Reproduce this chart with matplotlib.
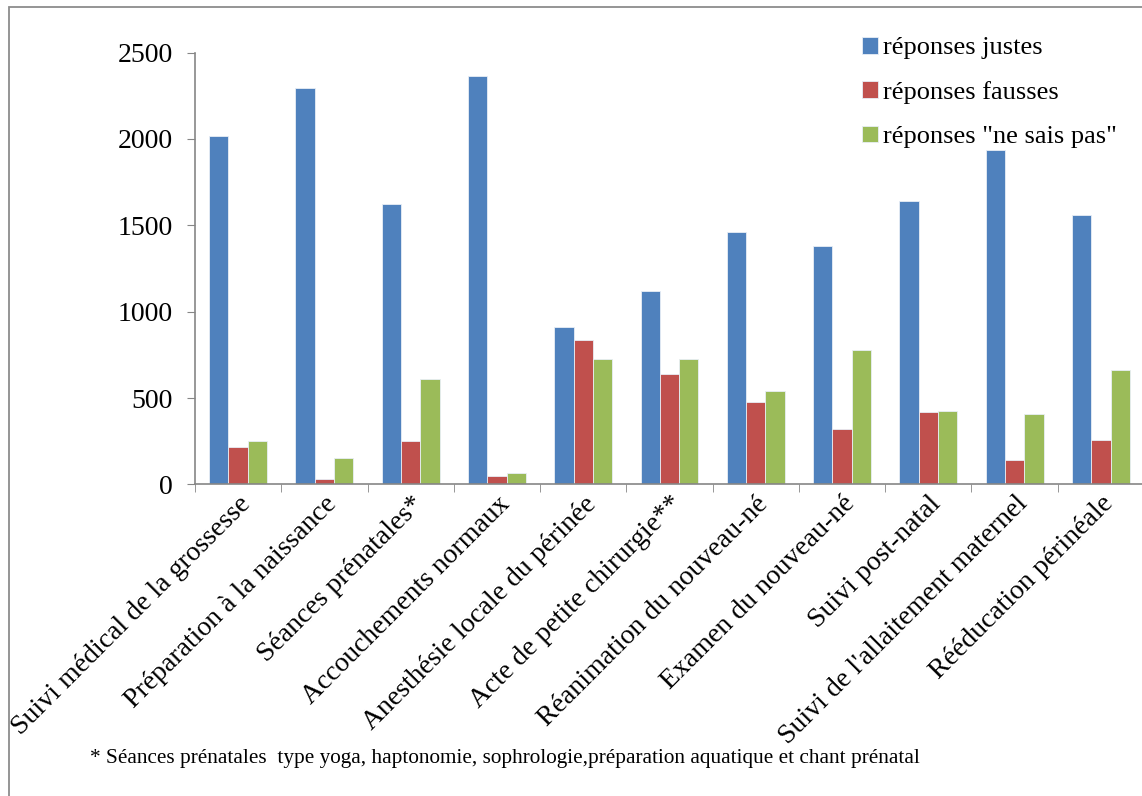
import matplotlib.pyplot as plt
import numpy as np
from matplotlib.patches import Rectangle

categories = ["Suivi médical de la grossesse", "Préparation à la naissance",
              "Séances prénatales*", "Accouchements normaux",
              "Anesthésie locale du périnée", "Acte de petite chirurgie**",
              "Réanimation du nouveau-né", "Examen du nouveau-né",
              "Suivi post-natal", "Suivi de l'allaitement maternel",
              "Rééducation périnéale"]
justes = [2015, 2295, 1622, 2363, 912, 1117, 1464, 1383, 1638, 1935, 1560]
fausses = [218, 31, 252, 48, 839, 638, 478, 320, 417, 141, 260]
ne_sais_pas = [249, 156, 608, 69, 727, 727, 542, 779, 428, 407, 662]
series_names = ["réponses justes", "réponses fausses", 'réponses "ne sais pas"']
footnote = "* Séances prénatales  type yoga, haptonomie, sophrologie,préparation aquatique et chant prénatal"

plt.rcParams['font.family'] = ['Liberation Serif', 'DejaVu Serif']

fig = plt.figure(figsize=(11.42, 7.96), dpi=100)
ax = fig.add_axes([195/1142, 1-484.5/796, 949/1142, 432/796])

x = np.arange(len(categories))
w = 0.224
colors = ["#4F81BD", "#C0504D", "#9BBB59"]
for i, (vals, c) in enumerate(zip([justes, fausses, ne_sais_pas], colors)):
    ax.bar(x + (i-1)*w, vals, w, color=c, edgecolor="#e8eef6", linewidth=0.6,
           label=series_names[i])

ax.set_xlim(-0.5, len(categories)-0.5)
ax.set_ylim(0, 2500)
ax.set_yticks(range(0, 2501, 500))
ax.tick_params(axis='y', labelsize=20, length=6, color="#868686", pad=10)

ax.set_xticks(x)
ax.set_xticklabels(categories, rotation=45, ha='right', rotation_mode='anchor', fontsize=20)
ax.tick_params(axis='x', which='major', length=0, pad=5)
ax.set_xticks(np.arange(-0.5, len(categories), 1), minor=True)
ax.tick_params(axis='x', which='minor', length=6, color="#868686")

for s in ['top', 'right']:
    ax.spines[s].set_visible(False)
for s in ['left', 'bottom']:
    ax.spines[s].set_color("#868686")
    ax.spines[s].set_linewidth(1.2)

fig.legend(loc='upper left', bbox_to_anchor=(838/1142, 1-13/796), frameon=False,
           fontsize=19, handlelength=0.6, handleheight=0.6, handletextpad=0.22,
           labelspacing=0.82)

fig.text(90/1142, 1-758/796, footnote, fontsize=15.3, va='center')

# cadre du graphique
fig.patches.append(Rectangle((9/1142, -0.05), 1.1, 1-6.5/796+0.05, transform=fig.transFigure,
                             fill=False, edgecolor="#8c8c8c", linewidth=1.3))

fig.savefig("out.png", dpi=100)
